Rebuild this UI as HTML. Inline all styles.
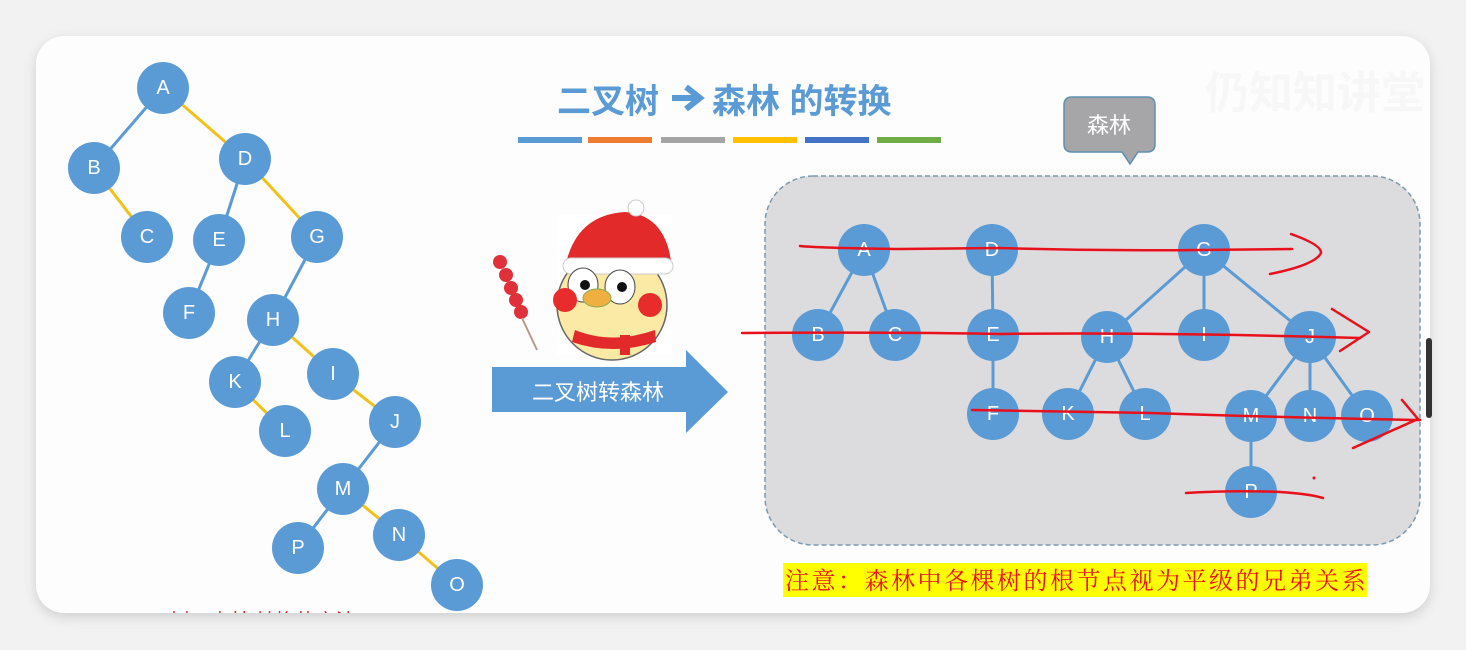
<!DOCTYPE html>
<html><head><meta charset="utf-8"><style>
html,body{margin:0;padding:0;background:#efefef;}
svg{display:block;}
</style></head><body>
<svg width="1466" height="650" viewBox="0 0 1466 650" xmlns="http://www.w3.org/2000/svg" font-family="Liberation Sans, Noto Sans CJK SC, sans-serif">
<defs>
<filter id="sh" x="-5%" y="-5%" width="110%" height="115%"><feGaussianBlur stdDeviation="6"/></filter>
<clipPath id="card"><rect x="36" y="36" width="1394" height="577" rx="28"/></clipPath>
</defs>
<rect x="0" y="0" width="1466" height="650" fill="#f2f2f2"/>
<rect x="36" y="40" width="1394" height="577" rx="28" fill="#cfcfcf" filter="url(#sh)"/>
<rect x="36" y="36" width="1394" height="577" rx="28" fill="#fdfdfd"/>
<g clip-path="url(#card)">
<g stroke-width="3">
<line x1="163" y1="88" x2="94" y2="168" stroke="#5b9bd5"/>
<line x1="163" y1="88" x2="245" y2="159" stroke="#f2c21a"/>
<line x1="94" y1="168" x2="147" y2="237" stroke="#f2c21a"/>
<line x1="245" y1="159" x2="219" y2="240" stroke="#5b9bd5"/>
<line x1="245" y1="159" x2="317" y2="237" stroke="#f2c21a"/>
<line x1="219" y1="240" x2="189" y2="313" stroke="#5b9bd5"/>
<line x1="317" y1="237" x2="273" y2="320" stroke="#5b9bd5"/>
<line x1="273" y1="320" x2="235" y2="382" stroke="#5b9bd5"/>
<line x1="273" y1="320" x2="333" y2="374" stroke="#f2c21a"/>
<line x1="235" y1="382" x2="285" y2="431" stroke="#f2c21a"/>
<line x1="333" y1="374" x2="395" y2="422" stroke="#f2c21a"/>
<line x1="395" y1="422" x2="343" y2="489" stroke="#5b9bd5"/>
<line x1="343" y1="489" x2="298" y2="548" stroke="#5b9bd5"/>
<line x1="343" y1="489" x2="399" y2="535" stroke="#f2c21a"/>
<line x1="399" y1="535" x2="457" y2="585" stroke="#f2c21a"/>
</g>
<g fill="#5b9bd5">
<circle cx="163" cy="88" r="26"/><circle cx="94" cy="168" r="26"/><circle cx="147" cy="237" r="26"/>
<circle cx="245" cy="159" r="26"/><circle cx="219" cy="240" r="26"/><circle cx="317" cy="237" r="26"/>
<circle cx="189" cy="313" r="26"/><circle cx="273" cy="320" r="26"/><circle cx="235" cy="382" r="26"/>
<circle cx="333" cy="374" r="26"/><circle cx="285" cy="431" r="26"/><circle cx="395" cy="422" r="26"/>
<circle cx="343" cy="489" r="26"/><circle cx="298" cy="548" r="26"/><circle cx="399" cy="535" r="26"/>
<circle cx="457" cy="585" r="26"/>
</g>
<g fill="#fff" font-size="20" text-anchor="middle" dominant-baseline="central">
<text x="163" y="88">A</text><text x="94" y="168">B</text><text x="147" y="237">C</text>
<text x="245" y="159">D</text><text x="219" y="240">E</text><text x="317" y="237">G</text>
<text x="189" y="313">F</text><text x="273" y="320">H</text><text x="235" y="382">K</text>
<text x="333" y="374">I</text><text x="285" y="431">L</text><text x="395" y="422">J</text>
<text x="343" y="489">M</text><text x="298" y="548">P</text><text x="399" y="535">N</text>
<text x="457" y="585">O</text>
</g>
<text x="130" y="628" fill="#e02020" font-size="20">二叉树→森林 转换的方法</text>

<!-- title -->
<g fill="#5b9bd5" font-size="34" font-weight="bold">
<text x="557" y="113">二叉树</text>
<text x="712" y="113">森林 的转换</text>
</g>
<path d="M672 98 H695 M686 87 L700 98 L686 109" fill="none" stroke="#5b9bd5" stroke-width="6" stroke-linejoin="miter"/>
<g>
<rect x="518" y="137" width="64" height="6" fill="#5b9bd5"/>
<rect x="588" y="137" width="64" height="6" fill="#ed7d31"/>
<rect x="661" y="137" width="64" height="6" fill="#a5a5a5"/>
<rect x="733" y="137" width="64" height="6" fill="#ffc000"/>
<rect x="805" y="137" width="64" height="6" fill="#4472c4"/>
<rect x="877" y="137" width="64" height="6" fill="#70ad47"/>
</g>
<text x="1205" y="108" fill="#f7f7f7" font-size="44" font-weight="bold">仍知知讲堂</text>

<!-- mascot -->
<g>
<rect x="557" y="215" width="115" height="140" fill="#fff"/>
<ellipse cx="612" cy="305" rx="55" ry="55" fill="#fbe9a6" stroke="#666" stroke-width="1.5"/>
<path d="M565 268 Q575 215 625 212 Q668 215 672 270 Z" fill="#e32a2a"/>
<rect x="563" y="258" width="110" height="16" rx="8" fill="#fff" stroke="#ccc"/>
<circle cx="636" cy="208" r="8" fill="#fff" stroke="#ccc"/>
<ellipse cx="583" cy="285" rx="15" ry="17" fill="#fff" stroke="#444"/>
<ellipse cx="620" cy="287" rx="15" ry="17" fill="#fff" stroke="#444"/>
<circle cx="585" cy="285" r="5" fill="#111"/><circle cx="622" cy="287" r="5" fill="#111"/>
<circle cx="565" cy="300" r="12" fill="#e82b2b"/><circle cx="650" cy="305" r="12" fill="#e82b2b"/>
<ellipse cx="597" cy="298" rx="14" ry="9" fill="#f0b040" stroke="#8a5"/>
<path d="M575 330 Q612 345 655 330 L656 342 Q612 356 572 342 Z" fill="#e32a2a"/>
<rect x="620" y="335" width="10" height="20" fill="#e32a2a"/>
<g fill="#e0303a">
<circle cx="500" cy="262" r="7"/><circle cx="506" cy="275" r="7"/><circle cx="511" cy="288" r="7"/>
<circle cx="516" cy="300" r="7"/><circle cx="521" cy="312" r="7"/>
</g>
<line x1="522" y1="318" x2="537" y2="350" stroke="#b98" stroke-width="2"/>
</g>

<path d="M492 367 H686 V350 L728 392 L686 433 V412 H492 Z" fill="#5b9bd5"/>
<text x="598" y="400" fill="#fff" font-size="22" text-anchor="middle">二叉树转森林</text>

<path d="M1072 97 H1147 Q1155 97 1155 105 V144 Q1155 152 1147 152 H1138 L1130 164 L1122 152 H1072 Q1064 152 1064 144 V105 Q1064 97 1072 97 Z" fill="#a6a6a8" stroke="#5e8fb0" stroke-width="1.5"/>
<text x="1109" y="133" fill="#fff" font-size="22" text-anchor="middle">森林</text>

<rect x="765" y="176" width="655" height="369" rx="48" fill="#dcdbde" stroke="#7a9ab0" stroke-width="1.5" stroke-dasharray="5,3"/>
<g stroke="#5b9bd5" stroke-width="3">
<line x1="864" y1="250" x2="818" y2="335"/><line x1="864" y1="250" x2="895" y2="335"/>
<line x1="992" y1="250" x2="993" y2="335"/><line x1="993" y1="335" x2="993" y2="414"/>
<line x1="1204" y1="250" x2="1107" y2="337"/><line x1="1204" y1="250" x2="1204" y2="335"/><line x1="1204" y1="250" x2="1310" y2="337"/>
<line x1="1107" y1="337" x2="1068" y2="414"/><line x1="1107" y1="337" x2="1145" y2="414"/>
<line x1="1310" y1="337" x2="1251" y2="416"/><line x1="1310" y1="337" x2="1310" y2="416"/><line x1="1310" y1="337" x2="1367" y2="416"/>
<line x1="1251" y1="416" x2="1251" y2="492"/>
</g>
<g fill="#5b9bd5">
<circle cx="864" cy="250" r="26"/><circle cx="992" cy="250" r="26"/><circle cx="1204" cy="250" r="26"/>
<circle cx="818" cy="335" r="26"/><circle cx="895" cy="335" r="26"/><circle cx="993" cy="335" r="26"/>
<circle cx="1107" cy="337" r="26"/><circle cx="1204" cy="335" r="26"/><circle cx="1310" cy="337" r="26"/>
<circle cx="993" cy="414" r="26"/><circle cx="1068" cy="414" r="26"/><circle cx="1145" cy="414" r="26"/>
<circle cx="1251" cy="416" r="26"/><circle cx="1310" cy="416" r="26"/><circle cx="1367" cy="416" r="26"/>
<circle cx="1251" cy="492" r="26"/>
</g>
<g fill="#fff" font-size="20" text-anchor="middle" dominant-baseline="central">
<text x="864" y="250">A</text><text x="992" y="250">D</text><text x="1204" y="250">G</text>
<text x="818" y="335">B</text><text x="895" y="335">C</text><text x="993" y="335">E</text>
<text x="1107" y="337">H</text><text x="1204" y="335">I</text><text x="1310" y="337">J</text>
<text x="993" y="414">F</text><text x="1068" y="414">K</text><text x="1145" y="414">L</text>
<text x="1251" y="416">M</text><text x="1310" y="416">N</text><text x="1367" y="416">O</text>
<text x="1251" y="492">P</text>
</g>
<g fill="none" stroke="#e8101a" stroke-width="2.5" stroke-linecap="round" stroke-linejoin="round">
<path d="M800 246 Q820 248 900 249 L1000 248 Q1100 251 1200 250 L1292 249"/>
<path d="M1291 234 Q1322 245 1321 253 Q1315 265 1270 274"/>
<path d="M742 333 Q900 332 1000 334 Q1150 332 1360 338"/>
<path d="M1332 309 L1369 332 L1340 351"/>
<path d="M972 410 Q1050 411 1150 413 Q1300 418 1420 420"/>
<path d="M1402 400 L1418 419 L1353 448"/>
<path d="M1186 493 Q1230 490 1280 492 Q1310 494 1323 498"/>
</g>
<circle cx="1314" cy="478" r="1.5" fill="#e8101a"/>
<rect x="783" y="563" width="584" height="34" fill="#ffff00"/>
<text x="785" y="589" fill="#e8101a" font-size="24" letter-spacing="2.5" font-family="Liberation Serif, Noto Serif CJK SC, serif">注意：森林中各棵树的根节点视为平级的兄弟关系</text>
</g>
<rect x="1426" y="338" width="6" height="80" rx="3" fill="#333"/>
</svg>
</body></html>
